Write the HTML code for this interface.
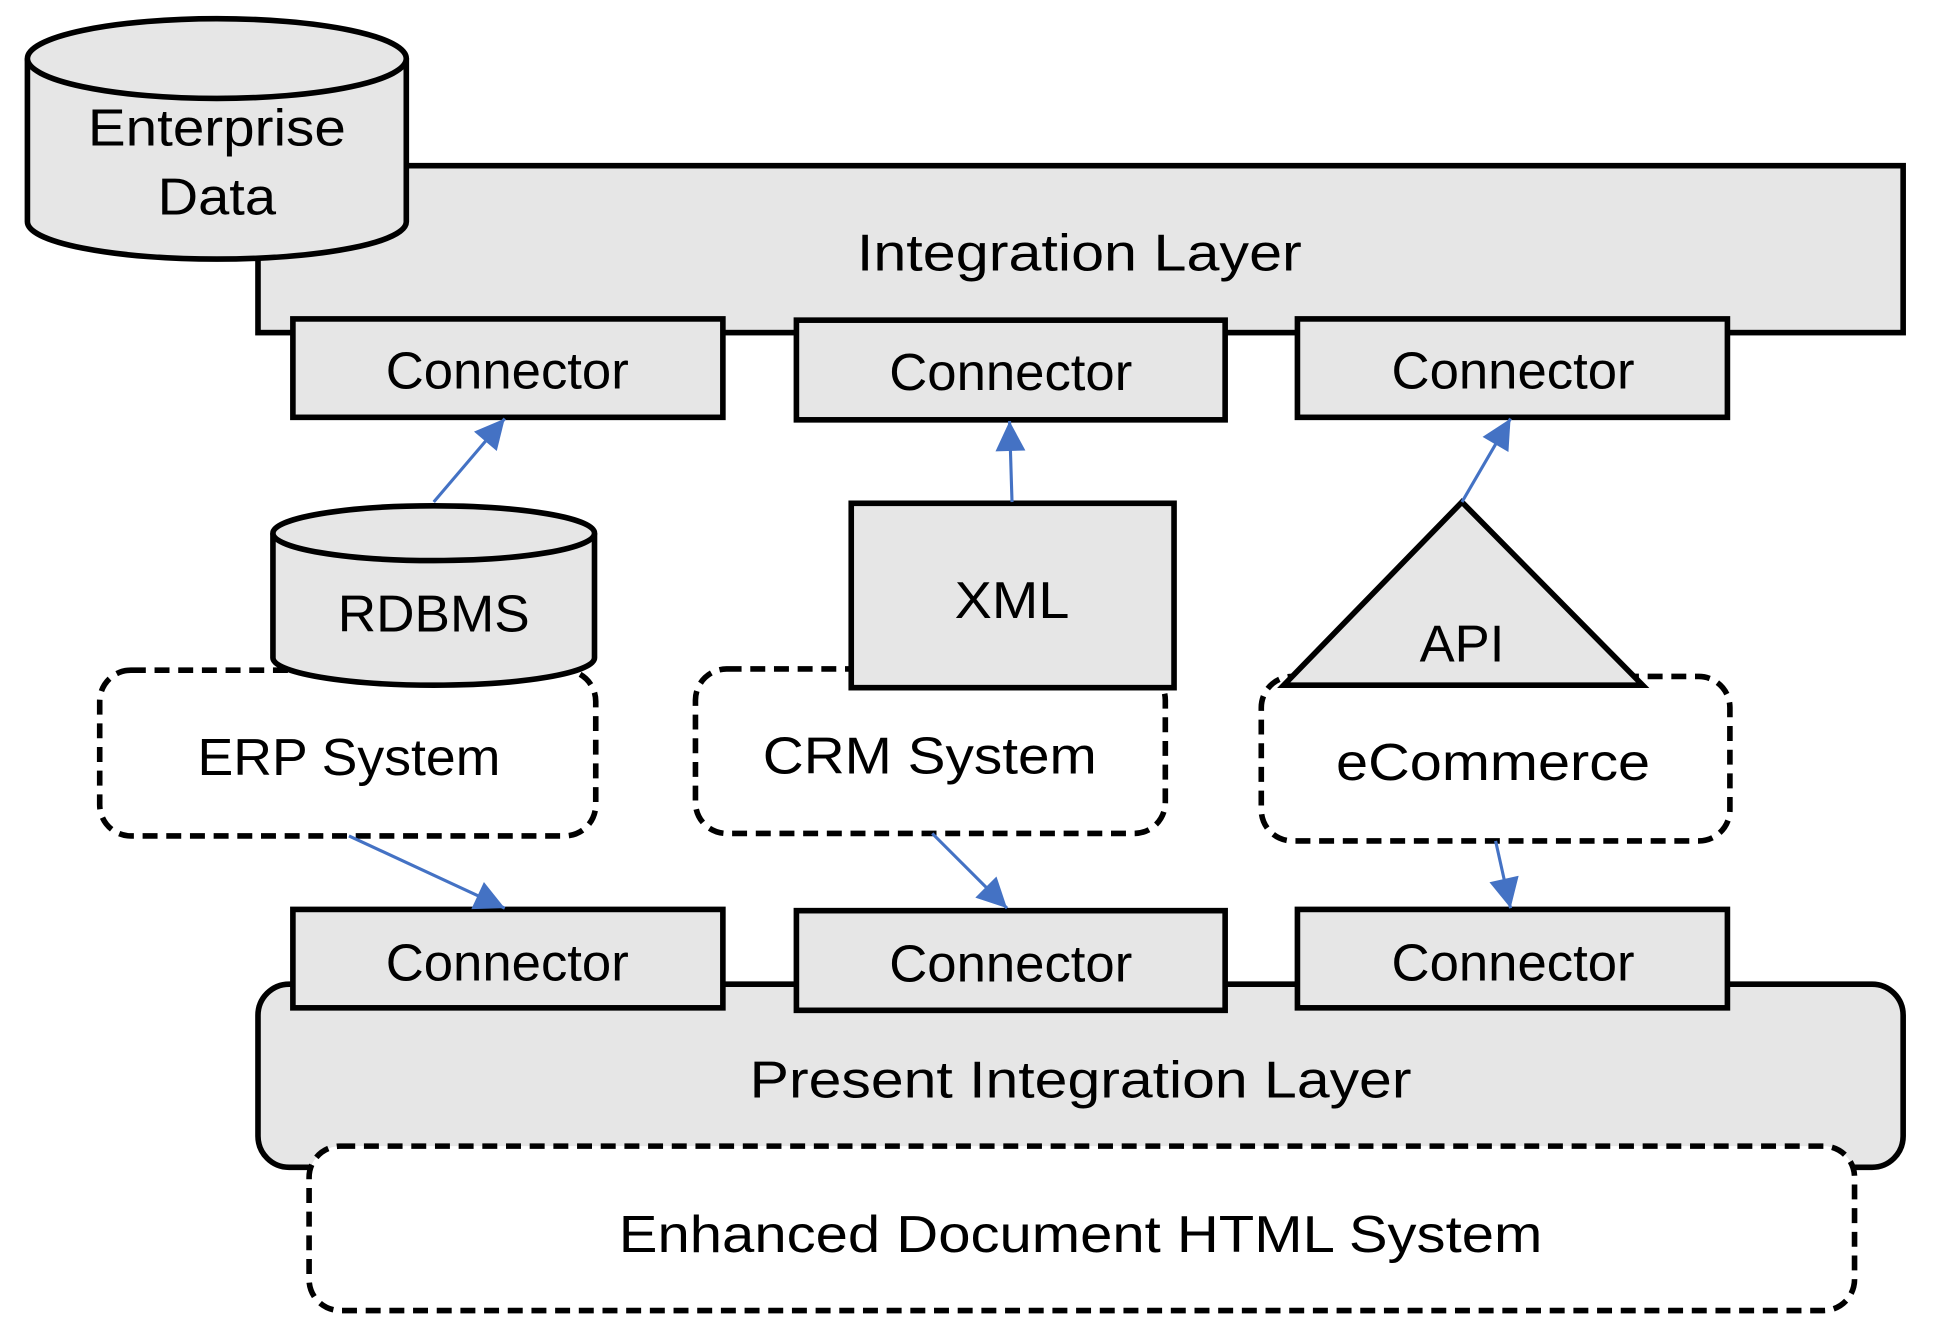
<!DOCTYPE html>
<html><head><style>html,body{margin:0;padding:0;background:#fff}svg{display:block}</style></head>
<body>
<svg width="1953" height="1328" viewBox="0 0 1567 1066" preserveAspectRatio="none" xmlns="http://www.w3.org/2000/svg" font-family="Liberation Sans, sans-serif" font-size="42" text-anchor="middle">
<defs>
<marker id="b" viewBox="0 0 10 10" refX="10" refY="5" markerWidth="28" markerHeight="24" orient="auto" markerUnits="userSpaceOnUse"><path d="M0,0 L10,5 L0,10 z" fill="#4472C4"/></marker></defs>
<g stroke="#000" stroke-width="4.5" fill="#e6e6e6">
<rect x="207" y="133" width="1320" height="134"/>
<path d="M22,47 V178 A152,30 0 0 0 326,178 V47" />
<ellipse cx="174" cy="47" rx="152" ry="32"/>
<rect x="235" y="256" width="345" height="79"/>
<rect x="639" y="257" width="344" height="80"/>
<rect x="1041" y="256" width="345" height="79"/>
<rect x="207" y="790" width="1320" height="147" rx="25"/>
<rect x="235" y="730" width="345" height="79"/>
<rect x="639" y="731" width="344" height="80"/>
<rect x="1041" y="730" width="345" height="79"/>
</g>
<g stroke="#000" stroke-width="4.5" stroke-dasharray="12,7" fill="#fff">
<rect x="80" y="538" width="398" height="133" rx="25"/>
<rect x="558" y="537" width="377" height="132" rx="25"/>
<rect x="1012" y="543" width="376" height="132" rx="25"/>
<rect x="248" y="920" width="1240" height="132" rx="25"/>
</g>
<g stroke="#000" stroke-width="4.5" fill="#e6e6e6">
<path d="M219,428 V528 A129,22 0 0 0 477,528 V428"/>
<ellipse cx="348" cy="428" rx="129" ry="22"/>
<rect x="683" y="404" width="259" height="148"/>
<path d="M1173,403 L1318,550 L1030,550 z"/>
</g>
<g stroke="#4472C4" stroke-width="2.5" marker-end="url(#b)">
<line x1="348" y1="403" x2="405" y2="336"/>
<line x1="812" y1="403" x2="810" y2="338"/>
<line x1="1173" y1="403" x2="1212" y2="336"/>
<line x1="280" y1="671" x2="405" y2="729"/>
<line x1="748" y1="669" x2="808" y2="729"/>
<line x1="1200" y1="675" x2="1212" y2="729"/>
</g>
<g fill="#000">
<text x="174" y="117" textLength="207" lengthAdjust="spacingAndGlyphs">Enterprise</text>
<text x="174" y="172" textLength="95" lengthAdjust="spacingAndGlyphs">Data</text>
<text x="866" y="217" textLength="357" lengthAdjust="spacingAndGlyphs">Integration Layer</text>
<text x="407" y="312" textLength="195" lengthAdjust="spacingAndGlyphs">Connector</text>
<text x="811" y="313" textLength="195" lengthAdjust="spacingAndGlyphs">Connector</text>
<text x="1214" y="312" textLength="195" lengthAdjust="spacingAndGlyphs">Connector</text>
<text x="348" y="507" textLength="154" lengthAdjust="spacingAndGlyphs">RDBMS</text>
<text x="812" y="496" textLength="92" lengthAdjust="spacingAndGlyphs">XML</text>
<text x="1173" y="531" textLength="68" lengthAdjust="spacingAndGlyphs">API</text>
<text x="280" y="622" textLength="243" lengthAdjust="spacingAndGlyphs">ERP System</text>
<text x="746" y="621" textLength="268" lengthAdjust="spacingAndGlyphs">CRM System</text>
<text x="1198" y="626" textLength="252" lengthAdjust="spacingAndGlyphs">eCommerce</text>
<text x="407" y="787" textLength="195" lengthAdjust="spacingAndGlyphs">Connector</text>
<text x="811" y="788" textLength="195" lengthAdjust="spacingAndGlyphs">Connector</text>
<text x="1214" y="787" textLength="195" lengthAdjust="spacingAndGlyphs">Connector</text>
<text x="867" y="881" textLength="531" lengthAdjust="spacingAndGlyphs">Present Integration Layer</text>
<text x="867" y="1005" textLength="741" lengthAdjust="spacingAndGlyphs">Enhanced Document HTML System</text>
</g>
</svg>
</body></html>
